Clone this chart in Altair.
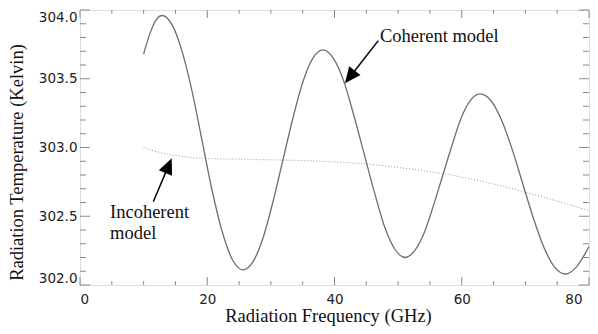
import altair as alt
import pandas as pd

# Coherent model
coh_x = [10, 11, 12, 12.9, 14.5, 16.1, 17.7, 19.25, 20.8, 22.4, 24.0, 25.6, 27.2, 28.75, 30.3,
         31.9, 33.5, 35.05, 36.6, 38.2, 39.8, 41.4, 43.0, 44.65, 46.3, 47.9, 49.5, 51.1, 52.6,
         54.05, 55.5, 57.0, 58.5, 59.95, 61.4, 62.9, 64.6, 66.25, 67.9, 69.6, 71.3, 72.95, 74.6,
         76.3, 78, 80]
coh_y = [303.68, 303.83, 303.93, 303.96, 303.89, 303.69, 303.39, 303.035, 302.68, 302.38, 302.18,
         302.11, 302.17, 302.34, 302.60, 302.91, 303.22, 303.48, 303.65, 303.71, 303.65, 303.49,
         303.24, 302.955, 302.67, 302.42, 302.26, 302.20, 302.25, 302.375, 302.57, 302.795, 303.02,
         303.22, 303.345, 303.39, 303.34, 303.20, 302.99, 302.735, 302.48, 302.27, 302.13, 302.08,
         302.13, 302.28]

# Incoherent model
inc_x = [10, 12, 14, 16, 18, 20, 25, 30, 35, 40, 45, 50, 55, 60, 65, 70, 75, 80]
inc_y = [303.00, 302.97, 302.95, 302.935, 302.925, 302.92, 302.915, 302.91, 302.905, 302.895,
         302.88, 302.855, 302.825, 302.785, 302.735, 302.675, 302.61, 302.54]

x_major = [0, 20, 40, 60, 80]
x_minor = [5, 10, 15, 25, 30, 35, 45, 50, 55, 65, 70, 75]
y_major = [302.0, 302.5, 303.0, 303.5, 304.0]
y_minor = [302.1, 302.2, 302.3, 302.4, 302.6, 302.7, 302.8, 302.9,
           303.1, 303.2, 303.3, 303.4, 303.6, 303.7, 303.8, 303.9]

ann_text = ["Coherent model", "Incoherent\nmodel"]
ann_x = [47.15, 4.72]
ann_y = [303.765, 302.487]

arrow_tail_x = [46.88, 11.52]
arrow_tail_y = [303.777, 302.606]
arrow_head_x = [42.42, 13.92]
arrow_head_y = [303.513, 302.868]
arrow_angle = [218, 23]

W, H = 509, 275
FRAME = "#8a8a8a"
SERIF = "Liberation Serif"
SANS = "DejaVu Sans"

xs = alt.Scale(domain=[0, 80], nice=False, zero=False)
ys = alt.Scale(domain=[302, 304], nice=False, zero=False)

coh = pd.DataFrame({"x": coh_x, "y": coh_y})
inc = pd.DataFrame({"x": inc_x, "y": inc_y})

x_axis = alt.Axis(values=x_major, format="d", ticks=False, domain=False, grid=False,
                  labelFont=SANS, labelFontSize=13.5, labelColor="#222", labelPadding=7,
                  labelOffset={"expr": "datum.value == 80 ? -7 : 0"},
                  title="Radiation Frequency (GHz)", titleFont=SERIF, titleFontSize=18.5,
                  titleFontWeight="normal", titleColor="#111", titleY=36.5,
                  titleBaseline="alphabetic", titleX=248)
y_axis = alt.Axis(values=y_major, format=".1f", ticks=False, domain=False, grid=False,
                  labelFont=SANS, labelFontSize=13.5, labelColor="#222", labelPadding=3,
                  labelFlush=True,
                  title="Radiation Temperature (Kelvin)", titleFont=SERIF, titleFontSize=18.5,
                  titleFontWeight="normal", titleColor="#111", titleAngle=270, titleX=-58,
                  titleY=152, titleBaseline="alphabetic", titleAlign="center")


def X(f="x"):
    return alt.X(f"{f}:Q", scale=xs, axis=x_axis)


def Y(f="y"):
    return alt.Y(f"{f}:Q", scale=ys, axis=y_axis)


coh_line = alt.Chart(coh).mark_line(color="#6e6e6e", strokeWidth=1.3,
                                    interpolate="monotone").encode(x=X(), y=Y())
inc_line = alt.Chart(inc).mark_line(color="#999999", strokeWidth=1, strokeDash=[1, 2],
                                    interpolate="monotone").encode(x=X(), y=Y())


def xticks(vals, L):
    df = pd.DataFrame({"x": vals})
    b = alt.Chart(df).mark_rule(color=FRAME, strokeWidth=1).encode(
        x=X(), y=alt.value(H), y2=alt.value(H - L))
    t = alt.Chart(df).mark_rule(color=FRAME, strokeWidth=1).encode(
        x=X(), y=alt.value(0), y2=alt.value(L))
    return [b, t]


def yticks(vals, L):
    df = pd.DataFrame({"y": vals})
    l = alt.Chart(df).mark_rule(color=FRAME, strokeWidth=1).encode(
        y=Y(), x=alt.value(0), x2=alt.value(L))
    r = alt.Chart(df).mark_rule(color=FRAME, strokeWidth=1).encode(
        y=Y(), x=alt.value(W), x2=alt.value(W - L))
    return [l, r]


ticks = xticks(x_major, 8) + xticks(x_minor, 4) + yticks(y_major, 10) + yticks(y_minor, 6)

ann = pd.DataFrame({"t": ann_text, "x": ann_x, "y": ann_y})
texts = alt.Chart(ann).mark_text(align="left", baseline="alphabetic", font=SERIF, fontSize=18.5,
                                 color="#111", lineBreak="\n", lineHeight=21).encode(
    x=X(), y=Y(), text="t:N")

arr = pd.DataFrame({"x": arrow_tail_x, "y": arrow_tail_y, "x2": arrow_head_x, "y2": arrow_head_y,
                    "a": arrow_angle})
shafts = alt.Chart(arr).mark_rule(color="black", strokeWidth=1.5).encode(
    x=X(), y=Y(), x2="x2:Q", y2="y2:Q")
heads = alt.Chart(arr).mark_point(shape="M0,-1L0.9,1L-0.9,1Z", filled=True, size=256,
                                  color="black", opacity=1).encode(
    x=X("x2"), y=Y("y2"), angle=alt.Angle("a:Q", scale=None))

chart = alt.layer(coh_line, inc_line, *ticks, shafts, heads, texts).properties(
    width=W, height=H,
    autosize=alt.AutoSizeParams(type="none"),
    padding={"left": 72, "top": 2, "right": 1, "bottom": 41},
).configure_view(stroke=FRAME, strokeWidth=1).configure(background="white")

chart.save("out.html", embed_options={"renderer": "svg", "actions": False})
